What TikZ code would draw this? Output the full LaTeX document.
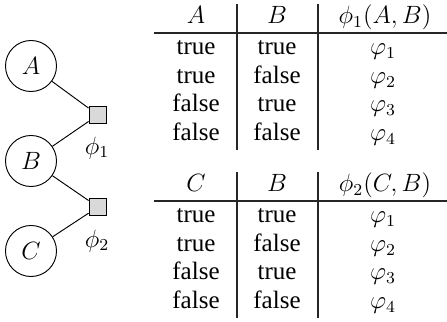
\documentclass[tikz,border=0pt]{standalone}
\usepackage[no-math]{fontspec}
\setmainfont{Liberation Serif}
\begin{document}
\begin{tikzpicture}[x=0.48pt,y=-0.48pt,
  var/.style={circle,draw,line width=0.45pt,minimum size=24.5pt,inner sep=0pt,font=\fontsize{12}{14}\selectfont},
  fac/.style={rectangle,draw,fill=black!15,minimum size=8.6pt,inner sep=0pt,line width=0.45pt},
  flab/.style={inner sep=0pt,font=\fontsize{12}{14}\selectfont},
  cell/.style={anchor=base,inner sep=0pt,font=\fontsize{12}{14}\selectfont},
  edge/.style={line width=0.45pt},
  tabrule/.style={line width=0.6pt,black!85}]
\useasboundingbox (0,0) rectangle (447,322);
% factor graph
\node[var] (A) at (31,66) {$A$};
\node[var] (B) at (31,161) {$B$};
\node[var] (C) at (31,251) {$C$};
\node[fac] (f1) at (98,115) {};
\node[fac] (f2) at (98,207) {};
\node[flab] (l1) at (97,148) {$\phi_1$};
\node[flab] (l2) at (97,241) {$\phi_2$};
\draw[edge] (A) -- (f1);
\draw[edge] (B) -- (f1);
\draw[edge] (B) -- (f2);
\draw[edge] (C) -- (f2);
% tables
\foreach \k/\oy/\ha/\hc in {1/0/A/{\phi_1(A,B)},2/168/C/{\phi_2(C,B)}}{
  \draw[tabrule] (154,33+\oy) -- (447,33+\oy);
  \draw[tabrule] (237,4+\oy) -- (237,150+\oy);
  \draw[tabrule] (318,4+\oy) -- (318,150+\oy);
  \node[cell] (h\k a) at (196,24+\oy) {$\ha$};
  \node[cell] (h\k b) at (277,24+\oy) {$B$};
  \node[cell] (h\k c) at (385,24+\oy) {$\hc$};
  \foreach \r/\va/\vb [evaluate=\r as \yy using 55+28.5*(\r-1)+\oy] in {1/true/true,2/true/false,3/false/true,4/false/false}{
    \node[cell] (r\k\r a) at (196,\yy) {\va};
    \node[cell] (r\k\r b) at (277,\yy) {\vb};
    \node[cell] (r\k\r c) at (383,\yy) {$\varphi_{\r}$};
  }
}
\end{tikzpicture}
\end{document}
